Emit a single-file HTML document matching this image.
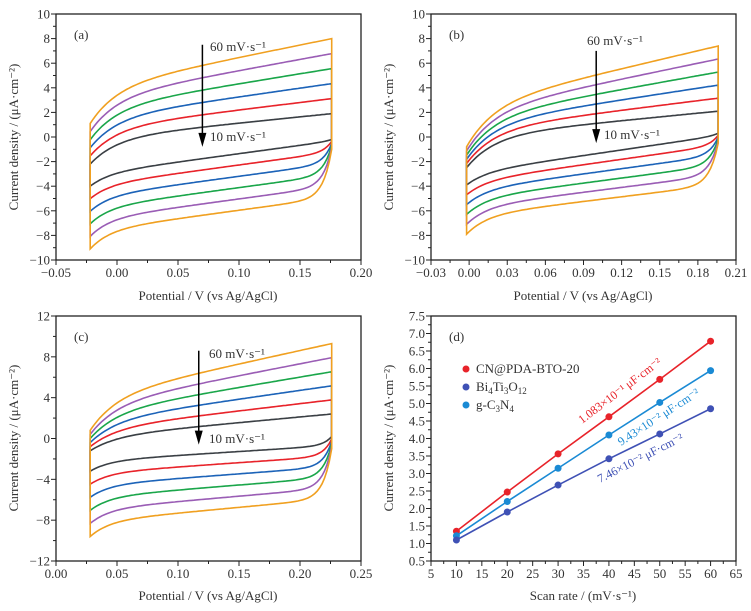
<!DOCTYPE html>
<html><head><meta charset="utf-8"><style>
html,body{margin:0;padding:0;background:#fff;}
svg{display:block;font-family:"Liberation Serif",serif;}
</style></head><body>
<svg id="s" width="751" height="611" xmlns="http://www.w3.org/2000/svg">
<g font-size="13" fill="#333">
<text x="208" y="300" text-anchor="middle">Potential / V (vs Ag/AgCl)</text>
<text x="583" y="300" text-anchor="middle">Potential / V (vs Ag/AgCl)</text>
<text x="208" y="600" text-anchor="middle">Potential / V (vs Ag/AgCl)</text>
<text x="583" y="600" text-anchor="middle">Scan rate / (mV·s⁻¹)</text>
<text transform="translate(18,137) rotate(-90)" text-anchor="middle">Current density / (μA·cm⁻²)</text>
<text transform="translate(393,137) rotate(-90)" text-anchor="middle">Current density / (μA·cm⁻²)</text>
<text transform="translate(18,438) rotate(-90)" text-anchor="middle">Current density / (μA·cm⁻²)</text>
<text transform="translate(393,438) rotate(-90)" text-anchor="middle">Current density / (μA·cm⁻²)</text>
<text x="74" y="39">(a)</text><text x="449" y="39">(b)</text>
<text x="74" y="341">(c)</text><text x="449" y="341">(d)</text>
<text x="210" y="51">60 mV·s⁻¹</text><text x="210" y="141">10 mV·s⁻¹</text>
<text x="587" y="45">60 mV·s⁻¹</text><text x="604" y="139">10 mV·s⁻¹</text>
<text x="209" y="358">60 mV·s⁻¹</text><text x="209" y="443">10 mV·s⁻¹</text>
<text x="476" y="373">CN@PDA-BTO-20</text>
<text x="476" y="391">Bi<tspan font-size="9" dy="3">4</tspan><tspan dy="-3">Ti</tspan><tspan font-size="9" dy="3">3</tspan><tspan dy="-3">O</tspan><tspan font-size="9" dy="3">12</tspan></text>
<text x="476" y="409">g-C<tspan font-size="9" dy="3">3</tspan><tspan dy="-3">N</tspan><tspan font-size="9" dy="3">4</tspan></text>
<text transform="translate(582,424) rotate(-37)" fill="#e8232a" font-size="12">1.083×10⁻¹ μF·cm⁻²</text>
<text transform="translate(621,446) rotate(-33)" fill="#1a8ad4" font-size="12">9.43×10⁻² μF·cm⁻²</text>
<text transform="translate(600,483) rotate(-27)" fill="#3f51b5" font-size="12">7.46×10⁻² μF·cm⁻²</text>
</g>
<circle cx="466" cy="369" r="3.5" fill="#e8232a"/>
<circle cx="466" cy="387" r="3.5" fill="#3f51b5"/>
<circle cx="466" cy="405" r="3.5" fill="#1a8ad4"/>
</svg>
<script>
var S=document.getElementById('s'),NS='http://www.w3.org/2000/svg';
function el(t,a,txt){var e=document.createElementNS(NS,t);for(var k in a)e.setAttribute(k,a[k]);if(txt!=null)e.textContent=txt;S.appendChild(e);return e;}
var cols=['#3a3f44','#e8232a','#1c63b8','#1aa64a','#9a5db5','#f0a020'];
function lerp(a,b,k){return a+(b-a)*k/5;}
function panel(P){
 var L=P.f[0],T=P.f[1],R=P.f[2],B=P.f[3];
 var X=function(v){return L+(v-P.x[0])/(P.x[1]-P.x[0])*(R-L);},Y=function(v){return B-(v-P.y[0])/(P.y[1]-P.y[0])*(B-T);};
 P.X=X;P.Y=Y;
 P.xt.forEach(function(t){var x=X(t[0]);el('line',{x1:x,x2:x,y1:B,y2:B+5,stroke:'#222','stroke-width':1});el('text',{x:x,y:B+17,'text-anchor':'middle','font-size':13,fill:'#333'},t[1]);});
 for(var i=0;i<P.xt.length-1;i++){var x=(X(P.xt[i][0])+X(P.xt[i+1][0]))/2;el('line',{x1:x,x2:x,y1:B,y2:B+3,stroke:'#222','stroke-width':1});}
 P.yt.forEach(function(t){var y=Y(t[0]);el('line',{x1:L-5,x2:L,y1:y,y2:y,stroke:'#222','stroke-width':1});el('text',{x:L-6,y:y+4.5,'text-anchor':'end','font-size':13,fill:'#333'},t[1]);});
 for(var i=0;i<P.yt.length-1;i++){var y=(Y(P.yt[i][0])+Y(P.yt[i+1][0]))/2;el('line',{x1:L-3,x2:L,y1:y,y2:y,stroke:'#222','stroke-width':1});}
 el('rect',{x:L,y:T,width:R-L,height:B-T,fill:'none',stroke:'#222','stroke-width':1.3});
}
function cv(P,c){
 for(var k=0;k<6;k++){
  var Ue=lerp(c.Ue[0],c.Ue[1],k),Us=lerp(c.Us[0],c.Us[1],k),m=lerp(c.m[0],c.m[1],k),Rr=Ue-m-Us;
  var Ll=lerp(c.Ll[0],c.Ll[1],k),n=lerp(c.n[0],c.n[1],k),A=lerp(c.A[0],c.A[1],k),ev=lerp(c.ev[0],c.ev[1],k);
  var Bb=ev-(Ll+n+A),d='';
  var px=function(t){return P.X(c.x0+(c.x1-c.x0)*t).toFixed(1);};
  for(var i=0;i<=100;i++){var t=i/100;var u=Ue-m*(1-t)-Rr*Math.exp(-t/0.11);d+=(i?'L':'M')+px(t)+','+P.Y(u).toFixed(1);}
  for(var i=100;i>=0;i--){var t=i/100;var l=Ll+n*t+A*(1-Math.exp(-t/0.08))+Bb*Math.exp(-(1-t)/0.035);d+='L'+px(t)+','+P.Y(l).toFixed(1);}
  d+='Z';
  el('path',{d:d,fill:'none',stroke:cols[k],'stroke-width':1.6});
 }
 var ax=P.X(c.ar[0]);
 el('line',{x1:ax,x2:ax,y1:P.Y(c.ar[1]),y2:P.Y(c.ar[2])-10,stroke:'#000','stroke-width':1.5});
 var ye=P.Y(c.ar[2]);el('path',{d:'M'+(ax-4)+','+(ye-14)+'L'+(ax+4)+','+(ye-14)+'L'+ax+','+ye+'Z',fill:'#000'});
}
function rng(a,b,s,f){var r=[];for(var v=a;v<=b+1e-9;v+=s)r.push([v,f(v)]);return r;}
function mn(v,d){var s=Math.abs(v).toFixed(d);return (v<-1e-9?'\u2212':'')+s;}
var pa={f:[56,14,361,260],x:[-0.05,0.20],y:[-10,10],xt:rng(-0.05,0.2,0.05,function(v){return mn(v,2)}),yt:rng(-10,10,2,function(v){return mn(v,0)})};
panel(pa);cv(pa,{x0:-0.022,x1:0.176,Ue:[1.9,8],Us:[-2.2,1.1],m:[2,4],Ll:[-4,-9.1],n:[2.67,2.67],A:[1,1.5],ev:[-0.2,-1],ar:[0.07,7.5,-0.8]});
var pb={f:[431,14,736,260],x:[-0.03,0.21],y:[-10,10],xt:rng(-0.03,0.21,0.03,function(v){return mn(v,2)}),yt:rng(-10,10,2,function(v){return mn(v,0)})};
panel(pb);cv(pb,{x0:-0.002,x1:0.196,Ue:[2.1,7.4],Us:[-2.5,-0.8],m:[2,4.8],Ll:[-3.9,-7.9],n:[3,2.5],A:[1,1.5],ev:[0.3,-0.5],ar:[0.1,7,-0.5]});
var pc={f:[56,316,361,561],x:[0,0.25],y:[-12,12],xt:rng(0,0.25,0.05,function(v){return mn(v,2)}),yt:rng(-12,12,4,function(v){return mn(v,0)})};
panel(pc);cv(pc,{x0:0.028,x1:0.226,Ue:[2.4,9.3],Us:[-1.2,0.8],m:[2.2,5.2],Ll:[-3.2,-9.6],n:[1.5,2.2],A:[1,1.5],ev:[0.2,-1],ar:[0.117,8.6,-0.6]});
var pd={f:[431,316,736,561],x:[5,65],y:[0.5,7.5],xt:rng(5,65,5,function(v){return v.toFixed(0)}),yt:rng(0.5,7.5,0.5,function(v){return v.toFixed(1)})};
panel(pd);
[[[1.35,2.47,3.56,4.62,5.69,6.78],'#e8232a'],[[1.22,2.2,3.15,4.1,5.03,5.94],'#1a8ad4'],[[1.1,1.9,2.67,3.42,4.13,4.85],'#3f51b5']].forEach(function(s){
 var d='';s[0].forEach(function(v,i){d+=(i?'L':'M')+pd.X(10+10*i)+','+pd.Y(v);});
 el('path',{d:d,fill:'none',stroke:s[1],'stroke-width':1.6});
 s[0].forEach(function(v,i){el('circle',{cx:pd.X(10+10*i),cy:pd.Y(v),r:3.5,fill:s[1]});});
});
</script>
</body></html>
